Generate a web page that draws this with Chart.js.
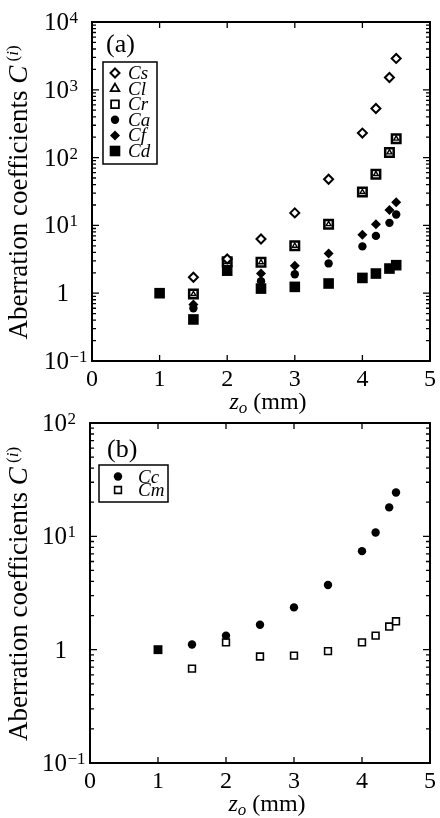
<!DOCTYPE html>
<html><head><meta charset="utf-8">
<script src="https://cdn.jsdelivr.net/npm/chart.js@4.4.0/dist/chart.umd.min.js"></script>
<style>
html,body{margin:0;padding:0;background:#fff;}
#wrap{position:relative;width:440px;height:818px;overflow:hidden;background:#fff;}
canvas{position:absolute;left:0;}
#ca{top:0;} #cb{top:400px;}
</style></head><body>
<div id="wrap"><canvas id="ca" width="440" height="420"></canvas><canvas id="cb" width="440" height="418"></canvas></div>
<script>
// ---------- data (panel a) ----------
const zA   = [1.5, 2, 2.5, 3, 3.5, 4, 4.2, 4.4, 4.5];
const csA  = [1.72, 3.2, 6.3, 15.3, 48, 230, 530, 1520, 2900];
const clA  = [0.97, 2.9, 2.85, 5.0, 10.4, 31, 57, 119, 190];
const crA  = [0.97, 2.9, 2.85, 5.0, 10.4, 31, 57, 119, 190];
const caA  = [0.6, 2.3, 1.5, 1.9, 2.75, 4.9, 7.0, 10.9, 14.5];
const cfA  = [0.68, 2.7, 1.95, 2.55, 3.85, 7.3, 10.4, 16.8, 22];
const zCd  = [1, 1.5, 2, 2.5, 3, 3.5, 4, 4.2, 4.4, 4.5];
const cdA  = [1.0, 0.41, 2.15, 1.17, 1.24, 1.39, 1.68, 1.95, 2.31, 2.59];
const namesA = ['Cs', 'Cl', 'Cr', 'Ca', 'Cf', 'Cd'];
// ---------- data (panel b) ----------
const zB   = [1.5, 2, 2.5, 3, 3.5, 4, 4.2, 4.4, 4.5];
const ccB  = [1.11, 1.33, 1.66, 2.36, 3.72, 7.4, 10.8, 18.0, 24.4];
const cmB  = [0.68, 1.16, 0.87, 0.885, 0.97, 1.16, 1.33, 1.6, 1.78];
const zNorm = [1];
const vNorm = [1.0];
const namesB = ['Cc', 'Cm'];
// ---------- ticks ----------
const xTicks = [0, 1, 2, 3, 4, 5];
const yExpA = [-1, 0, 1, 2, 3, 4];
const yExpB = [-1, 0, 1, 2];

const FONT = "'Liberation Serif','Times New Roman',serif";
Chart.defaults.font.family = FONT;

function pts(xs, ys) { return xs.map((v, i) => ({ x: v, y: ys[i] })); }

function superLabel(ctx, e, xr, py) {
  ctx.textAlign = 'right'; ctx.textBaseline = 'alphabetic';
  ctx.font = '25px ' + FONT;
  if (e === 0) { ctx.fillText('1', xr, py + 8); return; }
  ctx.fillText('10', xr, py + 8);
  ctx.font = '17px ' + FONT; ctx.textAlign = 'left';
  ctx.fillText(e < 0 ? '\u2212' + (-e) : String(e), xr + 0.5, py + 1);
}

const decor = {
  id: 'decor',
  afterDatasetsDraw(chart, args, o) {
    const ctx = chart.ctx, a = chart.chartArea, x = chart.scales.x, y = chart.scales.y;
    ctx.save();
    ctx.strokeStyle = '#000'; ctx.fillStyle = '#000';
    // tick marks (inward on all four sides)
    ctx.lineWidth = 1.3;
    ctx.beginPath();
    for (const v of xTicks) {
      if (v === xTicks[0] || v === xTicks[xTicks.length - 1]) continue;
      const px = x.getPixelForValue(v);
      ctx.moveTo(px, a.bottom); ctx.lineTo(px, a.bottom - 6);
      ctx.moveTo(px, a.top); ctx.lineTo(px, a.top + 6);
    }
    const e0 = o.exps[0], e1 = o.exps[o.exps.length - 1];
    for (let e = e0; e < e1; e++) {
      for (let m = 1; m <= 9; m++) {
        const py = y.getPixelForValue(m * Math.pow(10, e));
        const L = m === 1 ? 7 : 4;
        ctx.moveTo(a.left, py); ctx.lineTo(a.left + L, py);
        ctx.moveTo(a.right, py); ctx.lineTo(a.right - L, py);
      }
    }
    ctx.stroke();
    // frame
    ctx.lineWidth = 2;
    ctx.strokeRect(a.left, a.top, a.right - a.left, a.bottom - a.top);
    // y tick labels
    for (const e of o.exps) superLabel(ctx, e, a.left - 23, y.getPixelForValue(Math.pow(10, e)));
    // x title: z_o (mm)
    {
      const f1 = 'italic 24px ' + FONT, f2 = 'italic 17px ' + FONT, f3 = '24px ' + FONT;
      ctx.font = f1; const w1 = ctx.measureText('z').width;
      ctx.font = f2; const w2 = ctx.measureText('o').width;
      ctx.font = f3; const w3 = ctx.measureText(' (mm)').width;
      let sx = (a.left + a.right) / 2 + 7 - (w1 + w2 + w3) / 2;
      const by = a.bottom + 48;
      ctx.textAlign = 'left'; ctx.textBaseline = 'alphabetic';
      ctx.font = f1; ctx.fillText('z', sx, by); sx += w1;
      ctx.font = f2; ctx.fillText('o', sx, by + 4); sx += w2;
      ctx.font = f3; ctx.fillText(' (mm)', sx, by);
    }
    // y title
    {
      const f1 = '27px ' + FONT, f2 = 'italic 27px ' + FONT, f3 = '17px ' + FONT, f4 = 'italic 17px ' + FONT;
      const parts = [['Aberration coefficients ', f1, 0], ['C', f2, 0], [' (', f3, -9], ['i', f4, -9], [')', f3, -9]];
      let tot = 0;
      for (const p of parts) { ctx.font = p[1]; p.push(ctx.measureText(p[0]).width); tot += p[3]; }
      ctx.translate(27, (a.top + a.bottom) / 2 + 1);
      ctx.rotate(-Math.PI / 2);
      let sx = -tot / 2;
      ctx.textAlign = 'left'; ctx.textBaseline = 'alphabetic';
      for (const p of parts) { ctx.font = p[1]; ctx.fillText(p[0], sx, p[2]); sx += p[3]; }
      ctx.setTransform(1, 0, 0, 1, 0, 0);
    }
    // panel label
    ctx.font = '26px ' + FONT; ctx.textAlign = 'left'; ctx.textBaseline = 'middle';
    ctx.fillText(o.panel, o.panelX, o.panelY);
    // legend box
    const L = o.legend;
    ctx.lineWidth = 1.5;
    ctx.strokeRect(L.x0, L.y0, L.x1 - L.x0, L.y1 - L.y0);
    L.items.forEach((it, i) => {
      const ry = L.rowY + i * L.dy;
      ctx.fillStyle = it.bg; ctx.strokeStyle = '#000'; ctx.lineWidth = it.bw || 0.01;
      Chart.helpers.drawPoint(ctx, { pointStyle: it.style, radius: it.r, rotation: 0, borderWidth: it.bw || 0 }, L.mx, ry);
      ctx.fillStyle = '#000';
      ctx.font = 'italic 19px ' + FONT; ctx.textAlign = 'left'; ctx.textBaseline = 'middle';
      ctx.fillText(it.name, L.tx, ry + 1);
    });
    ctx.restore();
  }
};

function baseOptions(padTop, padRight, yMax, xH, yW, decorOpts) {
  return {
    responsive: false, animation: false, devicePixelRatio: 1,
    layout: { padding: { top: padTop, right: padRight, left: 0, bottom: 0 } },
    plugins: { legend: { display: false }, tooltip: { enabled: false }, decor: decorOpts },
    scales: {
      x: {
        type: 'linear', min: 0, max: 5,
        grid: { display: false, drawTicks: false }, border: { display: false },
        afterBuildTicks(s) { s.ticks = xTicks.map(v => ({ value: v })); },
        ticks: { autoSkip: false, maxRotation: 0, minRotation: 0, padding: 4, color: '#000',
                 font: { family: FONT, size: 24, lineHeight: 1.2 }, callback: v => String(v) },
        afterFit(s) { s.height = xH; }
      },
      y: {
        type: 'logarithmic', min: 0.1, max: yMax,
        grid: { display: false, drawTicks: false }, border: { display: false },
        ticks: { display: false },
        afterFit(s) { s.width = yW; }
      }
    }
  };
}

const W = '#fff', K = '#000';
const legendA = [
  { name: namesA[0], style: 'rectRot', r: 4.5, bg: W, bw: 2 },
  { name: namesA[1], style: 'triangle', r: 5, bg: W, bw: 1.8 },
  { name: namesA[2], style: 'rect', r: 5.5, bg: W, bw: 1.8 },
  { name: namesA[3], style: 'circle', r: 4.2, bg: K, bw: 0 },
  { name: namesA[4], style: 'rectRot', r: 5, bg: K, bw: 0 },
  { name: namesA[5], style: 'rect', r: 7.5, bg: K, bw: 0 }
];

new Chart(document.getElementById('ca'), {
  type: 'scatter',
  data: { datasets: [
    { label: namesA[0], data: pts(zA, csA), pointStyle: 'rectRot', pointRadius: 4.5, backgroundColor: W, borderColor: K, borderWidth: 2 },
    { label: namesA[1], data: pts(zA, clA), pointStyle: 'triangle', pointRadius: 2.8, backgroundColor: W, borderColor: K, borderWidth: 1.4 },
    { label: namesA[2], data: pts(zA, crA), pointStyle: 'rect', pointRadius: 6, backgroundColor: W, borderColor: K, borderWidth: 2.5 },
    { label: namesA[3], data: pts(zA, caA), pointStyle: 'circle', pointRadius: 4.2, backgroundColor: K, borderColor: K, borderWidth: 0 },
    { label: namesA[4], data: pts(zA, cfA), pointStyle: 'rectRot', pointRadius: 5, backgroundColor: K, borderColor: K, borderWidth: 0 },
    { label: namesA[5], data: pts(zCd, cdA), pointStyle: 'rect', pointRadius: 7.5, backgroundColor: K, borderColor: K, borderWidth: 0 }
  ] },
  options: baseOptions(22, 8, 10000, 59, 92, {
    exps: yExpA, panel: '(a)', panelX: 106, panelY: 45,
    legend: { x0: 103, y0: 62, x1: 157, y1: 164, mx: 115, tx: 128, rowY: 73, dy: 15.6, items: legendA }
  }),
  plugins: [decor]
});

const legendB = [
  { name: namesB[0], style: 'circle', r: 4.2, bg: K, bw: 0 },
  { name: namesB[1], style: 'rect', r: 4.8, bg: W, bw: 1.6 }
];

new Chart(document.getElementById('cb'), {
  type: 'scatter',
  data: { datasets: [
    { label: 'norm', data: pts(zNorm, vNorm), pointStyle: 'rect', pointRadius: 6.3, backgroundColor: K, borderColor: K, borderWidth: 0 },
    { label: namesB[0], data: pts(zB, ccB), pointStyle: 'circle', pointRadius: 4.2, backgroundColor: K, borderColor: K, borderWidth: 0 },
    { label: namesB[1], data: pts(zB, cmB), pointStyle: 'rect', pointRadius: 4.8, backgroundColor: W, borderColor: K, borderWidth: 1.6 }
  ] },
  options: baseOptions(23, 10, 100, 55, 90, {
    exps: yExpB, panel: '(b)', panelX: 107, panelY: 50,
    legend: { x0: 99, y0: 65, x1: 168, y1: 102, mx: 118, tx: 138, rowY: 76.5, dy: 13.5, items: legendB }
  }),
  plugins: [decor]
});
</script>
</body></html>
